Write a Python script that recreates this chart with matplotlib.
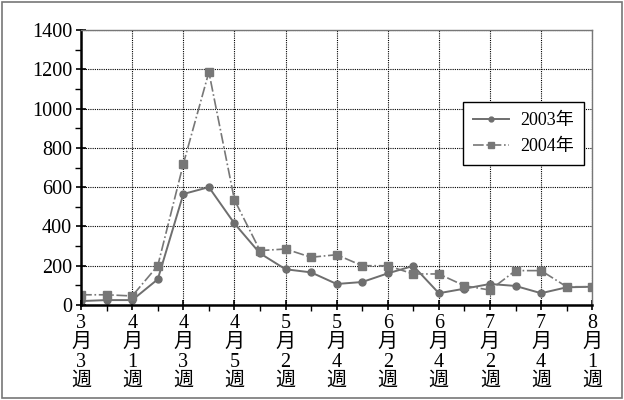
import matplotlib.pyplot as plt
from matplotlib.patches import Rectangle
from matplotlib.ticker import MultipleLocator

fonts = ['Liberation Serif', 'Noto Sans CJK JP']
plt.rcParams['font.family'] = fonts

# 週ごとの値
weeks = list(range(21))
tick_labels = ['3\n月\n3\n週', '4\n月\n1\n週', '4\n月\n3\n週', '4\n月\n5\n週',
               '5\n月\n2\n週', '5\n月\n4\n週', '6\n月\n2\n週', '6\n月\n4\n週',
               '7\n月\n2\n週', '7\n月\n4\n週', '8\n月\n1\n週']
y2003 = [20, 25, 25, 131, 565, 600, 415, 263, 182, 166, 107,
         117, 161, 199, 60, 83, 107, 97, 60, 90, 93]
y2004 = [52, 52, 46, 200, 718, 1186, 535, 277, 285, 243, 256,
         200, 200, 158, 158, 98, 76, 175, 175, 93, 93]

fig = plt.figure(figsize=(6.24, 4.0), dpi=100)
ax = fig.add_axes([0.13, 0.2375, 0.819, 0.6875])

col = '#6e6e6e'
ax.plot(weeks, y2003, color=col, lw=1.4, marker='o', ms=5, label='2003年')
ax.plot(weeks, y2004, color='#777777', lw=1.2, ls='-.', marker='s', ms=5.5, label='2004年')

ax.set_xlim(0, 20)
ax.set_ylim(0, 1400)
ax.set_xticks(weeks[::2])
ax.set_xticklabels(tick_labels, linespacing=1.02)
ax.xaxis.set_minor_locator(MultipleLocator(1))
ax.yaxis.set_major_locator(MultipleLocator(200))
ax.yaxis.set_minor_locator(MultipleLocator(100))
ax.tick_params(axis='both', which='major', labelsize=14.5, length=7, width=1.2, direction='inout')
ax.tick_params(axis='both', which='minor', length=4, width=1.0, direction='out')
ax.tick_params(axis='x', pad=3)
ax.tick_params(axis='y', pad=3)
for lab in ax.get_xticklabels() + ax.get_yticklabels():
    lab.set_fontfamily(fonts)

ax.grid(True, which='major', color='black', ls=(0, (1, 1)), lw=0.8)

for s in ['left', 'bottom']:
    ax.spines[s].set_linewidth(1.8)
    ax.spines[s].set_color('black')
for s in ['top', 'right']:
    ax.spines[s].set_linewidth(1.0)
    ax.spines[s].set_color('#777777')

leg = ax.legend(loc='upper left', bbox_to_anchor=(0.748, 0.738), borderaxespad=0,
                prop={'family': fonts, 'size': 13},
                frameon=True, fancybox=False, framealpha=1, edgecolor='black',
                handlelength=2.0, handletextpad=0.6, borderpad=0.55,
                labelspacing=0.5, markerscale=0.7)
leg.get_frame().set_linewidth(1.0)

fig.patches.append(Rectangle((0.004, 0.006), 0.992, 0.988, transform=fig.transFigure,
                             fill=False, edgecolor='#777777', lw=1.2))

plt.savefig('out.png', dpi=100)
